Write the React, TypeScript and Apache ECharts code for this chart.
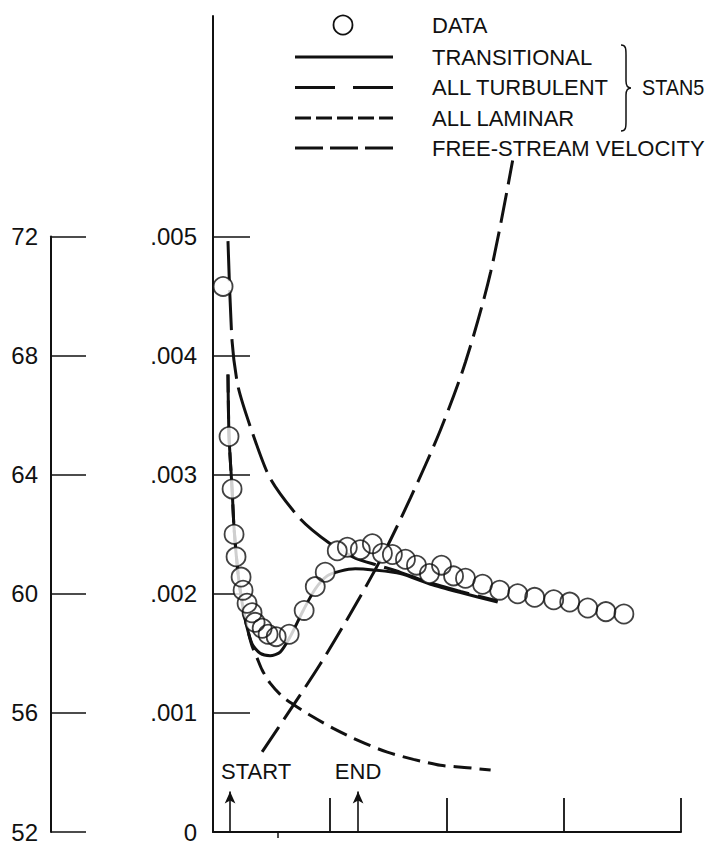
import React, { useEffect, useRef } from "react";
import * as echarts from "echarts";

// ---- axis ticks ----
const cfTicks = [0, 0.001, 0.002, 0.003, 0.004, 0.005];
const velTicks = [52, 56, 60, 64, 68, 72];
const xMajorTicks = [1, 2, 3, 4];
const xMinorTicks = [0.55];

// ---- data (x in axis units, Cf) ----
const dataX = [0.086, 0.137, 0.163, 0.18, 0.197, 0.24, 0.257, 0.291, 0.334, 0.36, 0.42, 0.471, 0.54, 0.651, 0.779, 0.874, 0.959, 1.062, 1.148, 1.259, 1.362, 1.448, 1.533, 1.645, 1.739, 1.85, 1.953, 2.056, 2.158, 2.304, 2.45, 2.604, 2.749, 2.912, 3.049, 3.203, 3.358, 3.512];
const dataCf = [0.00458, 0.00332, 0.00288, 0.0025, 0.00231, 0.00214, 0.00203, 0.00192, 0.00184, 0.00176, 0.00171, 0.00166, 0.00164, 0.00166, 0.00186, 0.00206, 0.00218, 0.00236, 0.00239, 0.00237, 0.00242, 0.00234, 0.00233, 0.00229, 0.00224, 0.00217, 0.00224, 0.00215, 0.00213, 0.00208, 0.00203, 0.002, 0.00197, 0.00195, 0.00193, 0.00188, 0.00185, 0.00183];

// STAN5 transitional
const transX = [0.128, 0.137, 0.163, 0.18, 0.214, 0.248, 0.283, 0.334, 0.403, 0.488, 0.574, 0.66, 0.771, 0.874, 0.976, 1.088, 1.216, 1.37, 1.602, 1.859, 2.116, 2.433];
const transCf = [0.00384, 0.00332, 0.00288, 0.00255, 0.00217, 0.00193, 0.00175, 0.00158, 0.0015, 0.00148, 0.00151, 0.00164, 0.00186, 0.00204, 0.00215, 0.00219, 0.00221, 0.0022, 0.00217, 0.00208, 0.00201, 0.00193];

// STAN5 all turbulent
const turbX = [0.128, 0.163, 0.214, 0.334, 0.488, 0.745, 1.002, 1.216, 1.405, 1.602, 1.859, 2.116, 2.433];
const turbCf = [0.00496, 0.00412, 0.00374, 0.00336, 0.00297, 0.00263, 0.00242, 0.0023, 0.00224, 0.00218, 0.00209, 0.00202, 0.00194];

// STAN5 all laminar
const lamX = [0.128, 0.137, 0.163, 0.18, 0.214, 0.248, 0.283, 0.334, 0.377, 0.42, 0.488, 0.6, 0.719, 0.831, 1.028, 1.259, 1.49, 1.713, 1.944, 2.176, 2.373];
const lamCf = [0.00384, 0.00332, 0.00288, 0.00255, 0.00217, 0.00193, 0.00175, 0.00156, 0.00146, 0.00136, 0.00125, 0.00113, 0.00105, 0.00098, 0.00087, 0.00076, 0.00067, 0.00061, 0.00056, 0.00054, 0.00052];

// free-stream velocity (left scale)
const velX = [0.42, 0.66, 0.917, 1.173, 1.43, 1.687, 1.944, 2.158, 2.373, 2.561];
const velV = [54.69, 56.1, 57.64, 59.32, 61.13, 63.21, 65.5, 67.78, 70.8, 74.55];

// transition markers
const startX = 0.146;
const endX = 1.24;
const arrowTopCf = 0.00034;
const markerTextCf = 0.00051;

const legendLabels = ["DATA", "TRANSITIONAL", "ALL TURBULENT", "ALL LAMINAR", "FREE-STREAM VELOCITY"];
const groupLabel = "STAN5";

const INK = "#111";
const FONT = "'Liberation Sans', Arial, sans-serif";

const zip = (xs: number[], ys: number[]) => xs.map((x, i) => [x, ys[i]]);

echarts.graphic.registerShape(
  "brace",
  echarts.graphic.extendPath(
    "M0 0 C5 0 5 4 5 10 L5 36 C5 40 6 43 10 43 C6 43 5 46 5 50 L5 76 C5 82 5 86 0 86",
    {}
  ) as any
);

export default function App() {
  const ref = useRef<HTMLDivElement>(null);

  useEffect(() => {
    if (!ref.current) return;
    const chart = echarts.init(ref.current, null, { renderer: "svg" });

    const cfFmt = (v: number) =>
      v === 0 ? "0" : "." + String(Math.round(v * 1000)).padStart(3, "0");

    const option: any = {
      animation: false,
      backgroundColor: "#fff",
      grid: [
        { left: 213, right: 43, top: 16, bottom: 12 },
        { left: 51, width: 40, top: 236.4, bottom: 12 },
      ],
      xAxis: [
        {
          gridIndex: 0,
          type: "value",
          min: 0,
          max: 4,
          interval: 1,
          axisLine: { show: true, onZero: false, lineStyle: { color: INK, width: 2 } },
          axisTick: { show: true, inside: true, length: 34, customValues: xMajorTicks, lineStyle: { color: INK, width: 1.8 } },
          axisLabel: { show: false },
          splitLine: { show: false },
        },
        {
          gridIndex: 0,
          type: "value",
          min: 0,
          max: 4,
          position: "bottom",
          axisLine: { show: false },
          axisTick: { show: true, inside: false, length: 6, customValues: xMinorTicks, lineStyle: { color: INK, width: 1.5 } },
          axisLabel: { show: false },
          splitLine: { show: false },
        },
        { gridIndex: 1, type: "value", min: 0, max: 1, show: false },
      ],
      yAxis: [
        {
          gridIndex: 0,
          type: "value",
          min: 0,
          max: 0.00685,
          interval: 0.001,
          axisLine: { show: true, onZero: false, lineStyle: { color: INK, width: 2 } },
          axisTick: { show: true, inside: true, length: 37, customValues: cfTicks, lineStyle: { color: INK, width: 1.6 } },
          axisLabel: {
            show: true,
            customValues: cfTicks,
            formatter: cfFmt,
            margin: 16,
            fontSize: 24,
            fontFamily: FONT,
            color: INK,
          },
          splitLine: { show: false },
        },
        { gridIndex: 0, type: "value", min: 52, max: 79.4, show: false },
        {
          gridIndex: 1,
          type: "value",
          min: 52,
          max: 72,
          interval: 4,
          axisLine: { show: true, onZero: false, lineStyle: { color: INK, width: 2 } },
          axisTick: { show: true, inside: true, length: 35, customValues: velTicks, lineStyle: { color: INK, width: 1.6 } },
          axisLabel: { show: true, margin: 13, fontSize: 24, fontFamily: FONT, color: INK },
          splitLine: { show: false },
        },
      ],
      series: [
        {
          name: "ALL LAMINAR",
          type: "line",
          xAxisIndex: 0,
          yAxisIndex: 0,
          data: zip(lamX, lamCf),
          smooth: 0.25,
          showSymbol: false,
          lineStyle: { color: INK, width: 3, type: [18, 8] },
          z: 2,
          markLine: {
            silent: true,
            symbol: ["none", "arrow"],
            symbolSize: [8, 12],
            label: { show: false },
            lineStyle: { color: INK, width: 1.6, type: "solid" },
            data: [
              [{ coord: [startX, 0] }, { coord: [startX, arrowTopCf] }],
              [{ coord: [endX, 0] }, { coord: [endX, arrowTopCf] }],
            ],
          },
        },
        {
          name: "ALL TURBULENT",
          type: "line",
          xAxisIndex: 0,
          yAxisIndex: 0,
          data: zip(turbX, turbCf),
          smooth: 0.25,
          showSymbol: false,
          lineStyle: { color: INK, width: 3, type: [40, 9] },
          z: 2,
        },
        {
          name: "TRANSITIONAL",
          type: "line",
          xAxisIndex: 0,
          yAxisIndex: 0,
          data: zip(transX, transCf),
          smooth: 0.25,
          showSymbol: false,
          lineStyle: { color: INK, width: 3, type: "solid" },
          z: 3,
        },
        {
          name: "FREE-STREAM VELOCITY",
          type: "line",
          xAxisIndex: 0,
          yAxisIndex: 1,
          data: zip(velX, velV),
          smooth: 0.3,
          showSymbol: false,
          lineStyle: { color: INK, width: 3, type: [30, 9] },
          z: 2,
        },
        {
          name: "DATA-mask",
          type: "scatter",
          xAxisIndex: 0,
          yAxisIndex: 0,
          data: zip(dataX, dataCf),
          symbol: "circle",
          symbolSize: 19,
          itemStyle: { color: "#fff", borderWidth: 0 },
          z: 4,
          silent: true,
        },
        {
          name: "DATA",
          type: "scatter",
          xAxisIndex: 0,
          yAxisIndex: 0,
          data: zip(dataX, dataCf),
          symbol: "circle",
          symbolSize: 19,
          itemStyle: { color: "rgba(0,0,0,0)", borderColor: INK, borderWidth: 1.8 },
          z: 5,
        },
      ],
    };

    chart.setOption(option);

    const ps = chart.convertToPixel({ xAxisIndex: 0, yAxisIndex: 0 }, [startX, markerTextCf]) as number[];
    const pe = chart.convertToPixel({ xAxisIndex: 0, yAxisIndex: 0 }, [endX, markerTextCf]) as number[];

    const lineX1 = 295;
    const lineX2 = 393;
    const textX = 432;
    const rows = [25, 57, 87.5, 118, 148];
    const txt = (x: number, y: number, s: string, align = "left", sx = 1) => ({
      type: "text",
      x,
      y,
      scaleX: sx,
      style: { text: s, fontSize: 22, fontFamily: FONT, fill: INK, align, verticalAlign: "middle" },
      silent: true,
    });
    const lg = (y: number, dash: any) => ({
      type: "line",
      shape: { x1: lineX1, y1: y, x2: lineX2, y2: y },
      style: { stroke: INK, lineWidth: 3, lineDash: dash },
      silent: true,
    });

    chart.setOption({
      graphic: [
        { type: "circle", shape: { cx: 343, cy: rows[0], r: 9.5 }, style: { fill: "none", stroke: INK, lineWidth: 1.8 }, silent: true },
        lg(rows[1], null),
        lg(rows[2], [40, 18]),
        lg(rows[3], [16, 5]),
        lg(rows[4], [28, 7]),
        ...legendLabels.map((s, i) => txt(textX, rows[i], s)),
        { type: "brace", x: 621, y: 45, style: { fill: "none", stroke: INK, lineWidth: 1.5 }, silent: true },
        txt(642, rows[2], groupLabel, "left", 0.9),
        txt(ps[0] - 9, ps[1], "START"),
        txt(pe[0], pe[1], "END", "center"),
      ],
    });

    return () => chart.dispose();
  }, []);

  return (
    <div
      ref={ref}
      style={{ position: "fixed", left: 0, top: 0, width: 724, height: 844, background: "#fff" }}
    />
  );
}
